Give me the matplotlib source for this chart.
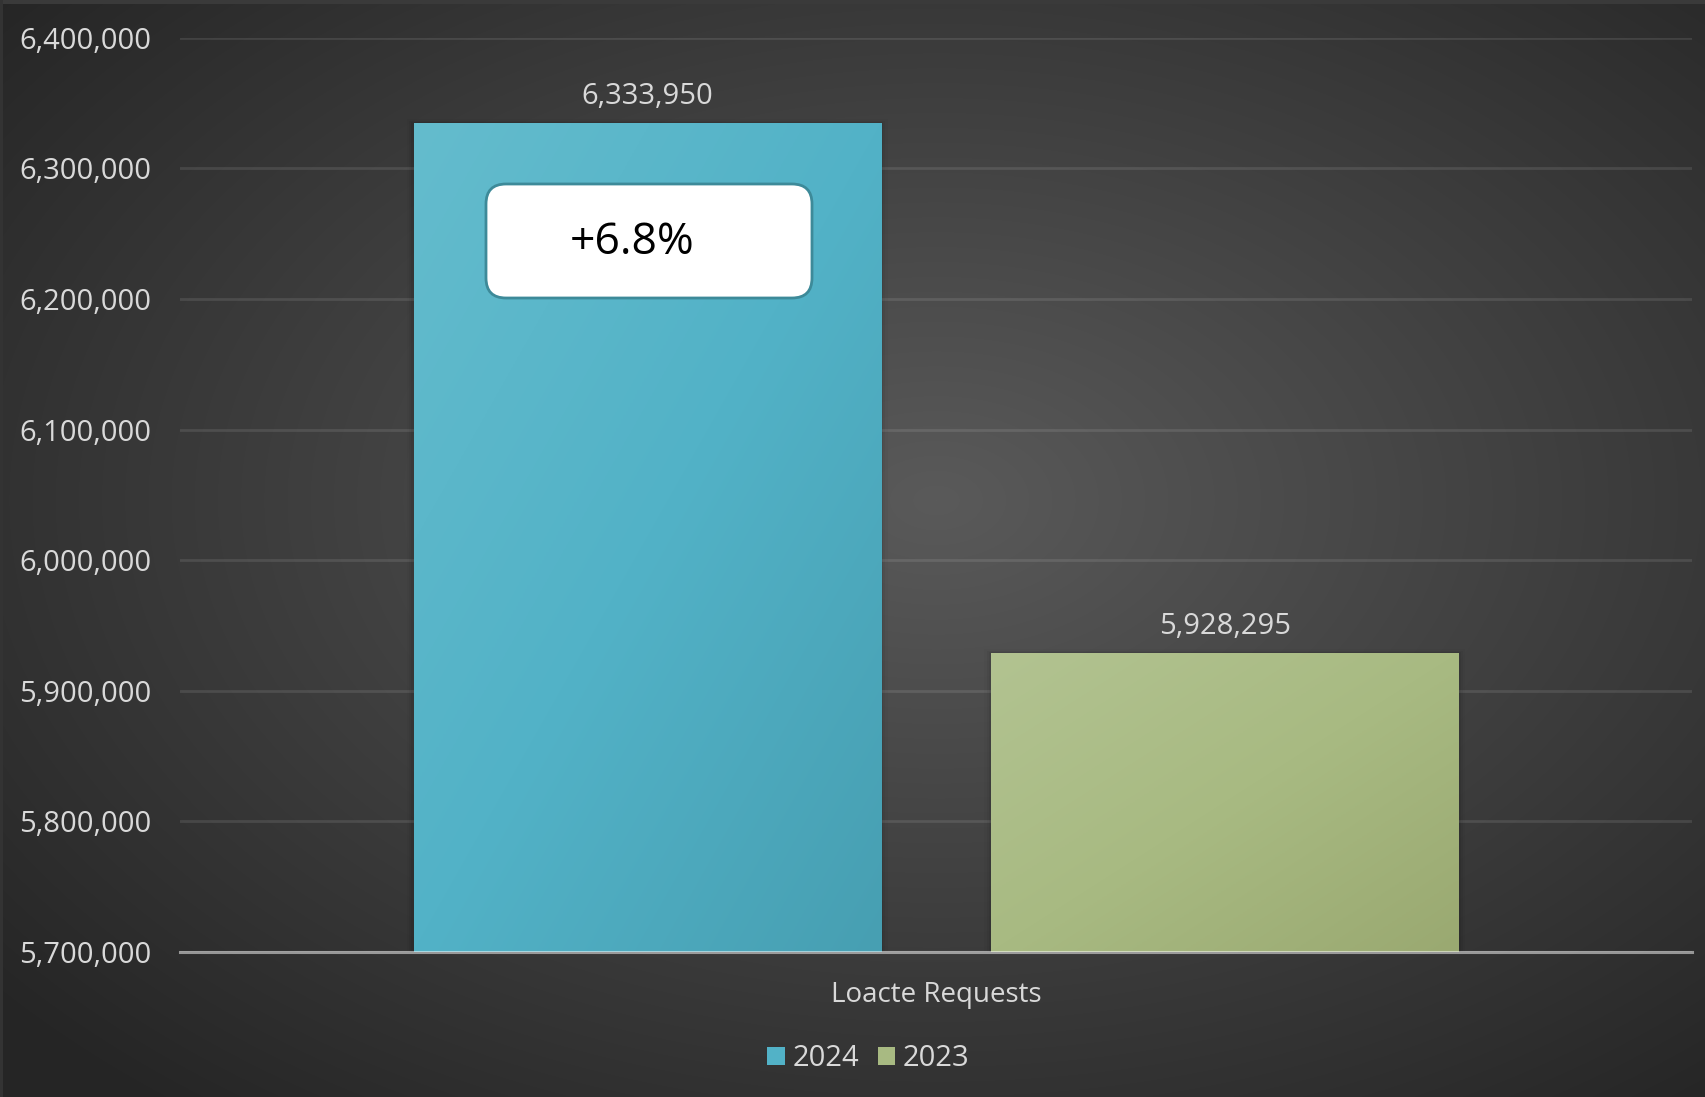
import numpy as np
import matplotlib
matplotlib.use("Agg")
import matplotlib.pyplot as plt
from matplotlib.patches import FancyBboxPatch, Rectangle
from matplotlib.transforms import IdentityTransform
from matplotlib.colors import LinearSegmentedColormap
from matplotlib.ticker import FuncFormatter

# ---- data ----
categories = ["Loacte Requests"]
series_names = ["2024", "2023"]
values_2024 = [6333950]
values_2023 = [5928295]
change_label = "+6.8%"
y_ticks = [5700000, 5800000, 5900000, 6000000, 6100000, 6200000, 6300000, 6400000]

plt.rcParams['font.family'] = ['Open Sans', 'DejaVu Sans']

W, H, DPI = 1706, 1097, 100
fig = plt.figure(figsize=(W / DPI, H / DPI), dpi=DPI)

# ---- radial gradient background ----
bg = fig.add_axes([0, 0, 1, 1], zorder=-10)
yy, xx = np.mgrid[0:H, 0:W]
cx, cy = 936, 500
r = np.sqrt(((xx - cx) / W) ** 2 + ((yy - cy) / H) ** 2)
r = np.clip(r / 0.72, 0, 1)
c_in, c_out = np.array([0x5a, 0x5a, 0x5a]) / 255, np.array([0x25, 0x25, 0x25]) / 255
img = c_in[None, None, :] * (1 - r[..., None]) + c_out[None, None, :] * r[..., None]
bg.imshow(img, extent=[0, W, H, 0], aspect='auto')
bg.set_xlim(0, W); bg.set_ylim(H, 0)
bg.axis('off')
bg.add_patch(Rectangle((0, 0), W, 4, color='#3a3a3a', lw=0))
bg.add_patch(Rectangle((0, 0), 3, H, color='#333333', lw=0))

# ---- main axes ----
ax = fig.add_axes([180 / W, 1 - 952 / H, 1512 / W, (952 - 37.7) / H])
ax.set_facecolor('none')
ymin, ymax = y_ticks[0], y_ticks[-1]

x = np.arange(len(categories))
width = 0.309
offset = 0.191

cmap_blue = LinearSegmentedColormap.from_list('b', ['#64bccd', '#52b2c7', '#479fb2'])
cmap_green = LinearSegmentedColormap.from_list('g', ['#b2c391', '#a8ba82', '#9aa971'])

bars_a = ax.bar(x - offset, values_2024, width, color='#52b2c7', label=series_names[0], zorder=3)
bars_b = ax.bar(x + offset, values_2023, width, color='#a8ba82', label=series_names[1], zorder=3)

grad = np.add.outer(np.linspace(0, 1, 200), np.linspace(0, 1, 200)) / 2
for bars, cmap in ((bars_a, cmap_blue), (bars_b, cmap_green)):
    for b in bars:
        x0, w = b.get_x(), b.get_width()
        top = b.get_y() + b.get_height()
        for k, a in enumerate([0.06, 0.04, 0.025]):
            dx = 0.0015 * (k + 1)
            ax.add_patch(Rectangle((x0 - dx, ymin), w + 2 * dx, top - ymin + 1200 * (k + 1),
                                   color='black', alpha=a, lw=0, zorder=2))
        ax.imshow(grad, cmap=cmap, extent=[x0, x0 + w, ymin, top],
                  aspect='auto', zorder=3.5, interpolation='bilinear')

ax.set_xlim(-0.5, 0.5)
ax.set_ylim(ymin, ymax)

for bars in (bars_a, bars_b):
    ax.bar_label(bars, labels=[f"{v:,.0f}" for v in bars.datavalues],
                 padding=9, color='#d9d9d9', fontsize=21, zorder=5)

ax.set_yticks(y_ticks)
ax.yaxis.set_major_formatter(FuncFormatter(lambda v, p: f"{v:,.0f}"))
ax.grid(axis='y', color='#ffffff', alpha=0.1, lw=2, zorder=1)
ax.set_axisbelow(True)
for s in ['top', 'right', 'left']:
    ax.spines[s].set_visible(False)
ax.spines['bottom'].set_color('#ffffff')
ax.spines['bottom'].set_alpha(0.5)
ax.spines['bottom'].set_linewidth(2.2)
ax.spines['bottom'].set_zorder(6)
ax.set_xticks(x)
ax.set_xticklabels(categories)
ax.tick_params(axis='y', length=0, pad=20.5, labelsize=21, labelcolor='#d9d9d9')
ax.tick_params(axis='x', length=0, pad=21, labelsize=20, labelcolor='#d9d9d9')

box = FancyBboxPatch((486, 1097 - 298), 326, 114,
                     boxstyle="round,pad=0,rounding_size=20",
                     transform=IdentityTransform(), facecolor='white',
                     edgecolor='#3d8a99', lw=2, zorder=10)
fig.patches.append(box)
fig.text(632 / W, 1 - 243 / H, change_label, fontsize=32, color='black',
         ha='center', va='center', zorder=11)

leg = fig.legend(handles=[bars_a, bars_b], labels=series_names, loc='center',
                 bbox_to_anchor=(0.509, 1 - 1059 / H), ncol=2, frameon=False,
                 fontsize=21, labelcolor='#d9d9d9', handlelength=0.6,
                 handleheight=0.6, handletextpad=0.25, columnspacing=0.65)

fig.savefig('out.png', dpi=DPI)
